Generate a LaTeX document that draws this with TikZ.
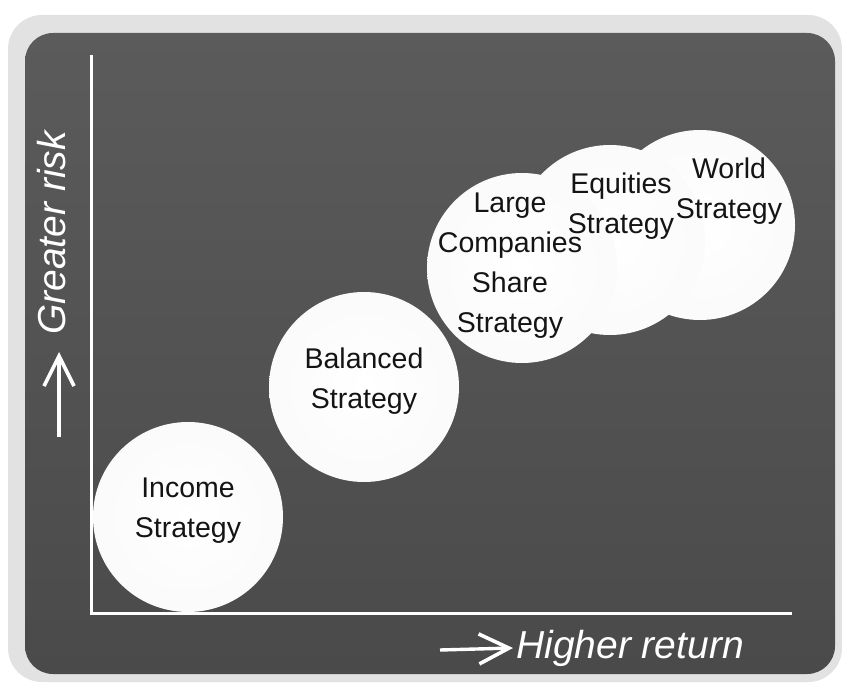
\documentclass[tikz,border=0pt]{standalone}
\usepackage{fontspec}
\setmainfont{Liberation Sans}
\usepackage{tikz}
\usetikzlibrary{arrows.meta,calc}
\definecolor{panel}{HTML}{E2E2E2}
\definecolor{slate}{HTML}{5B5B5B}
\definecolor{slatedark}{HTML}{4A4A4A}
\definecolor{ink}{HTML}{141414}
% soft white disc, grey only near the rim
\pgfdeclareradialshading{orb}{\pgfpoint{0bp}{0bp}}{color(0bp)=(white); color(28bp)=(black!2); color(45bp)=(black!6); color(50bp)=(black!14)}

\begin{document}
\begin{tikzpicture}[x=1pt,y=-1pt,
  ball/.style={circle,minimum size=190pt,inner sep=0pt,shading=orb},
  tag/.style={align=center,text=ink,font=\fontsize{28.5}{40}\selectfont},
  axis/.style={white,line width=3pt},
  pointer/.style={white,line width=3.4pt,-{Straight Barb[length=30pt,width=30pt,line width=3.6pt]}},
  axlabel/.style={text=white,font=\fontsize{39}{39}\selectfont\itshape,inner sep=0pt}]
\useasboundingbox (0,0) rectangle (842,684);
% frame
\fill[white] (0,0) rectangle (842,684);
\fill[panel,rounded corners=34pt] (8,15) rectangle (842,682);
\shade[top color=slate,bottom color=slatedark,rounded corners=28pt] (25,33) rectangle (835,674);
% axes
\coordinate (ytop) at (91,55);
\coordinate (xend) at (792,613);
\draw[axis] (ytop) |- (xend);
% axis labels
\node[axlabel,anchor=base west] (ret) at (516,658) {Higher return};
\coordinate (retfrom) at (440,650);
\draw[pointer,shorten >=3pt] (retfrom) -- (ret.west);
\node[axlabel,rotate=90,anchor=base west] (risk) at (65,335) {Greater risk};
\coordinate (riskfrom) at (59,437);
\draw[pointer,shorten >=17pt] (riskfrom) -- (riskfrom |- risk.west);
% strategies, back to front
\node[ball] (world) at (700,225) {};
\node[ball] (equities) at (610,240) {};
\node[ball] (large) at (522,268) {};
\node[ball] (balanced) at (364,387) {};
\node[ball] (income) at (188,517) {};
\node[tag] at ($(world)+(29,-34)$) {World\\Strategy};
\node[tag] at ($(equities)+(11,-34)$) {Equities\\Strategy};
\node[tag] at ($(large)+(-12,-2)$) {Large\\Companies\\Share\\Strategy};
\node[tag] at ($(balanced)+(0,-6)$) {Balanced\\Strategy};
\node[tag] at ($(income)+(0,-6)$) {Income\\Strategy};
\end{tikzpicture}
\end{document}
